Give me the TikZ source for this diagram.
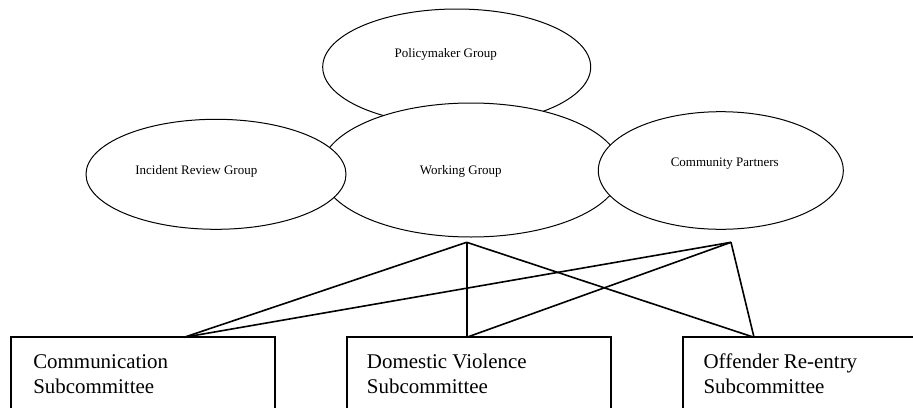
\documentclass[tikz,border=0pt]{standalone}
\usepackage{fontspec}
\setmainfont{Liberation Serif}
\usetikzlibrary{shapes.geometric}
\tikzset{
  grp/.style={ellipse, draw=black, fill=white, line width=0.75pt, inner sep=0pt, outer sep=0pt},
  grptext/.style={inner sep=0pt, font=\fontsize{9.75}{11}\selectfont},
  subbox/.style={rectangle, draw=black, fill=white, line width=1.5pt, inner sep=0pt, outer sep=0pt, anchor=north west},
  boxtext/.style={inner sep=0pt, align=left, anchor=base west, font=\fontsize{15.7}{18.75}\selectfont},
  link/.style={draw=black, line width=1.2pt}
}
\begin{document}
\begin{tikzpicture}[x=0.75pt, y=-0.75pt]
\useasboundingbox (0,0) rectangle (913,407);
\clip (0,0) rectangle (913,407);
% ellipses
\node[grp, minimum width=201pt, minimum height=87pt] (pm) at (456.7,67) {};
\node[grp, minimum width=225pt, minimum height=100.5pt] (wg) at (471,170) {};
\node[grp, minimum width=195pt, minimum height=82.5pt] (ir) at (216,174.3) {};
\node[grp, minimum width=183.75pt, minimum height=88.2pt] (cp) at (720.8,170.5) {};
\node[grptext] (pmt) at (445.8,54) {Policymaker Group};
\node[grptext] (wgt) at (460.8,171.7) {Working Group};
\node[grptext] (irt) at (196.3,171.7) {Incident Review Group};
\node[grptext] (cpt) at (724.8,164) {Community Partners};
% boxes
\node[subbox, minimum width=198pt, minimum height=69.5pt] (c1) at (11,337.3) {};
\node[subbox, minimum width=198.5pt, minimum height=69.5pt] (c2) at (346.7,337.3) {};
\node[subbox, minimum width=185pt, minimum height=69.5pt] (c3) at (683.3,337.3) {};
\node[boxtext] (c1t) at (33,393) {Communication\\Subcommittee};
\node[boxtext] (c2t) at (366.7,393) {Domestic Violence\\Subcommittee};
\node[boxtext] (c3t) at (703.3,393) {Offender Re-entry\\Subcommittee};
% connector points
\coordinate (wga) at (466.7,242.3);
\coordinate (cpa) at (731,242.3);
\coordinate (t1) at (184,337.3);
\coordinate (t2) at (466.7,337.3);
\coordinate (t3) at (754,337.3);
\draw[link] (wga) -- (t1);
\draw[link] (wga) -- (t2);
\draw[link] (wga) -- (t3);
\draw[link] (cpa) -- (t1);
\draw[link] (cpa) -- (t2);
\draw[link] (cpa) -- (t3);
\end{tikzpicture}
\end{document}
